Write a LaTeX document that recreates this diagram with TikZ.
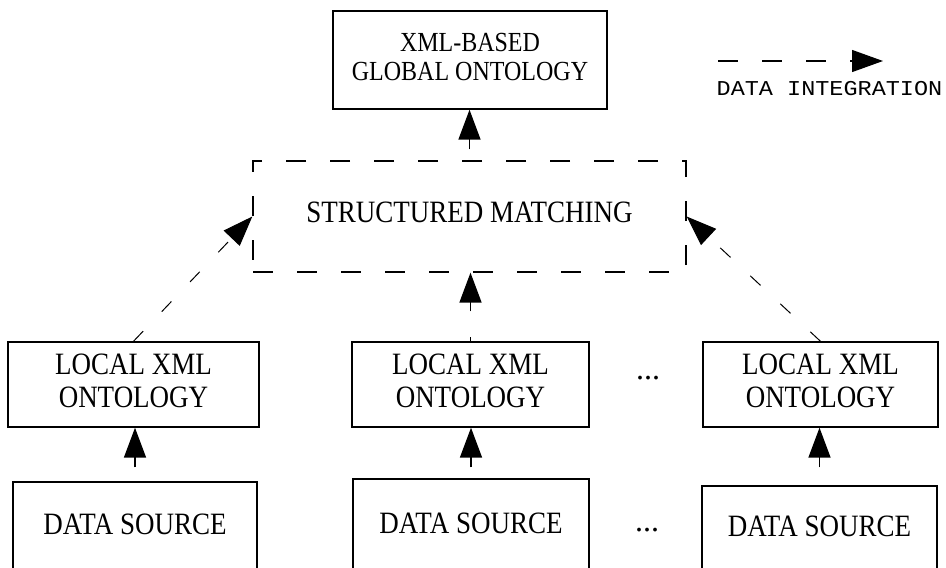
\documentclass[tikz,border=0pt]{standalone}
\usepackage{fontspec}
\setmainfont{Liberation Serif}
\newfontfamily\legendfont{Liberation Mono}
\usetikzlibrary{arrows.meta}
\newcommand{\boxtext}[3]{\scalebox{1}[1.15]{\fontsize{#1}{#2}\selectfont\begin{tabular}{@{}c@{}}#3\end{tabular}}}
\tikzset{
  solidbox/.style={draw, line width=1.4pt, inner sep=0pt},
  dbox/.style={draw, line width=1.3pt, dash pattern=on 20pt off 24pt, inner sep=0pt},
  uparrow/.style={line width=1.6pt, -{Triangle[length=30pt,width=22pt]}},
  diag/.style={line width=1pt, dash pattern=on 14pt off 27pt, -{Triangle[length=30pt,width=22pt]}},
  dotsnode/.style={inner sep=0pt, font=\fontsize{32}{32}\selectfont},
}
\begin{document}
\begin{tikzpicture}[x=1pt, y=-1pt]
\useasboundingbox (0,0) rectangle (946,568);
\clip (0,0) rectangle (946,568);
\fill[white] (0,0) rectangle (946,568);

% boxes
\node[solidbox, minimum width=274pt, minimum height=98pt] (glob) at (470,60)
  {\boxtext{24}{25.5}{XML-BASED\\GLOBAL ONTOLOGY}};
\node[dbox, minimum width=433pt, minimum height=111pt] (sm) at (469.5,216.5)
  {\boxtext{27}{28}{STRUCTURED MATCHING}};

\node[solidbox, minimum width=251pt, minimum height=85pt] (l1) at (133.5,384.5)
  {\boxtext{27}{28}{LOCAL XML\\ONTOLOGY}};
\node[solidbox, minimum width=237pt, minimum height=85pt] (l2) at (470.5,384.5)
  {\boxtext{27}{28}{LOCAL XML\\ONTOLOGY}};
\node[solidbox, minimum width=235pt, minimum height=85pt] (l3) at (820.5,384.5)
  {\boxtext{27}{28}{LOCAL XML\\ONTOLOGY}};

\node[solidbox, minimum width=244pt, minimum height=93pt] (d1) at (135,528.5)
  {\boxtext{27}{28}{DATA SOURCE}};
\node[solidbox, minimum width=236pt, minimum height=96pt] (d2) at (471,527)
  {\boxtext{27}{28}{DATA SOURCE}};
\node[solidbox, minimum width=235pt, minimum height=89pt] (d3) at (819.5,530.5)
  {\boxtext{27}{28}{DATA SOURCE}};

% ellipses
\node[dotsnode] (dots1) at (648,378) {...};
\node[dotsnode] (dots2) at (647,530) {...};

% arrows data source -> local
\draw[uparrow, shorten <=14pt] (d1.north) -- (d1.north |- l1.south);
\draw[uparrow, shorten <=11pt] (d2.north) -- (d2.north |- l2.south);
\draw[uparrow, shorten <=18pt] (d3.north) -- (d3.north |- l3.south);

% local -> structured matching
\draw[diag] (l1.north) -- (sm.west);
\draw[diag] (l3.north) -- (sm.east);
\draw[uparrow, dash pattern=on 4pt off 26pt on 80pt] (l2.north) -- (l2.north |- sm.south);

% structured matching -> global
\draw[uparrow, shorten <=11pt] (sm.north) -- (sm.north |- glob.south);

% legend
\coordinate (lgs) at (718,61);
\coordinate (lge) at (883,61);
\draw[line width=1.3pt, dash pattern=on 20pt off 24pt, -{Triangle[length=31pt,width=22pt]}] (lgs) -- (lge);
\node[inner sep=0pt] (lgl) at (829.5,89)
  {\scalebox{1}[0.9]{\legendfont\fontsize{23.5}{24}\selectfont DATA INTEGRATION}};
\end{tikzpicture}
\end{document}
